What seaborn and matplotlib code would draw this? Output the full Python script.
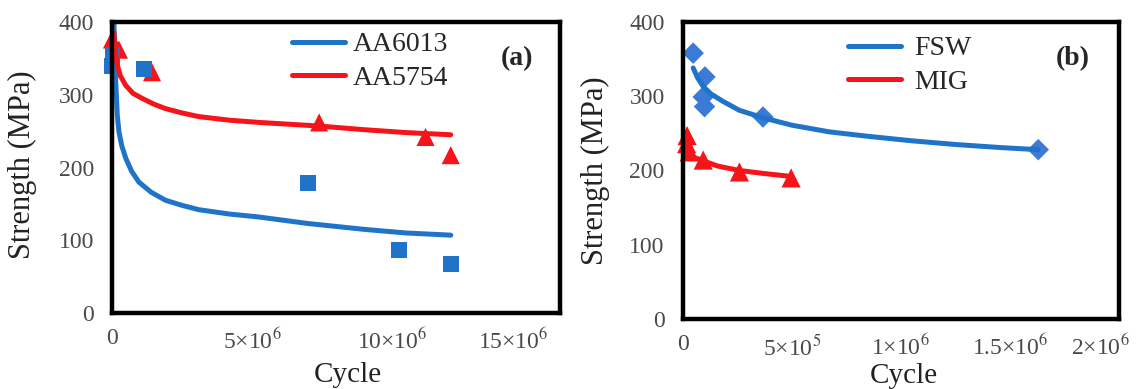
import numpy as np
import pandas as pd
import seaborn as sns
import matplotlib.pyplot as plt
from matplotlib.transforms import ScaledTranslation

# ---- data ----
# panel (a): measured points
aa6013_cycles = [0.0, 0.02e6, 1.14e6, 7.0e6, 10.25e6, 12.1e6]
aa6013_strength = [340, 355, 335, 179, 87, 67]
aa5754_cycles = [0.0, 0.25e6, 1.43e6, 7.4e6, 11.2e6, 12.1e6]
aa5754_strength = [376, 362, 331, 262, 242, 217]

# panel (a): trend curves
aa6013_fit_x = [0.07e6, 0.12e6, 0.19e6, 0.25e6, 0.35e6, 0.49e6, 0.7e6, 0.96e6, 1.4e6, 1.91e6,
                2.5e6, 3.1e6, 4.2e6, 5.24e6, 7e6, 9e6, 10.5e6, 12.1e6]
aa6013_fit_y = [398, 330, 272, 249, 230, 213, 195, 180, 166, 155,
                148, 142, 136, 132, 123, 115, 110, 107]
aa5754_fit_x = [0.07e6, 0.12e6, 0.19e6, 0.3e6, 0.49e6, 0.75e6, 1.08e6, 1.5e6, 1.91e6, 2.5e6,
                3.1e6, 4.2e6, 5.24e6, 7.4e6, 9e6, 10.5e6, 12.1e6]
aa5754_fit_y = [385, 360, 341, 326, 313, 302, 295, 287, 281, 275,
                270, 265, 262, 257, 252, 248, 245]

# panel (b): measured points
fsw_cycles = [0.048e6, 0.102e6, 0.094e6, 0.10e6, 0.368e6, 1.63e6]
fsw_strength = [358, 326, 299, 286, 272, 228]
mig_cycles = [0.02e6, 0.018e6, 0.03e6, 0.094e6, 0.26e6, 0.497e6]
mig_strength = [247, 236, 225, 214, 198, 190]

# panel (b): trend curves
fsw_fit_x = [0.048e6, 0.07e6, 0.094e6, 0.13e6, 0.185e6, 0.26e6, 0.368e6, 0.5e6, 0.672e6,
             0.85e6, 1.05e6, 1.25e6, 1.45e6, 1.63e6]
fsw_fit_y = [338, 324, 313, 303, 293, 281, 271, 261, 252, 246, 240, 235, 231, 228]
mig_fit_x = [0.005e6, 0.02e6, 0.05e6, 0.094e6, 0.16e6, 0.26e6, 0.37e6, 0.497e6]
mig_fit_y = [231, 224, 218, 213, 206, 200, 196, 192]

yticks = [0, 100, 200, 300, 400]
xticks_a = [0, 5e6, 10e6, 15e6]
xtick_labels_a = ["0", "5×10$^6$", "10×10$^6$", "15×10$^6$"]
xticks_b = [0, 5e5, 1e6, 1.5e6, 2e6]
xtick_labels_b = ["0", "5×10$^5$", "1×10$^6$", "1.5×10$^6$", "2×10$^6$"]

BLUE = "#1f74c9"
BLUE_D = "#3b7bd6"
RED = "#f5141a"

sns.set_style("white")
plt.rcParams["font.family"] = ["Liberation Serif", "DejaVu Serif"]
plt.rcParams["mathtext.fontset"] = "stix"

fig = plt.figure(figsize=(11.39, 3.89), dpi=100)
ax1 = fig.add_axes([0.0983, 0.1954, 0.3933, 0.748])
ax2 = fig.add_axes([0.5994, 0.18, 0.3830, 0.7635])


def style_axes(ax, xticks, xlabels, xmax):
    ax.set_xlim(0, xmax)
    ax.set_ylim(0, 400)
    ax.set_yticks(yticks)
    ax.set_xticks(xticks)
    ax.set_xticklabels(xlabels)
    ax.tick_params(axis="both", length=0, labelsize=17, colors="#4a4a4a")
    ax.tick_params(axis="y", pad=13)
    ax.tick_params(axis="x", pad=11)
    for sp in ax.spines.values():
        sp.set_visible(True)
        sp.set_color("black")
        sp.set_linewidth(3.2)
    ax.set_xlabel("Cycle", fontsize=21, color="#222222")
    ax.set_ylabel("Strength (MPa)", fontsize=22, color="#222222")
    # last tick label sits a little left of its tick in the reference
    last = ax.get_xticklabels()[-1]
    last.set_transform(last.get_transform() + ScaledTranslation(-0.19, 0, fig.dpi_scale_trans))


# --- panel (a) ---
sns.lineplot(x=aa6013_fit_x, y=aa6013_fit_y, ax=ax1, color=BLUE, lw=3.6, label="AA6013")
sns.lineplot(x=aa5754_fit_x, y=aa5754_fit_y, ax=ax1, color=RED, lw=3.6, label="AA5754")
sns.scatterplot(x=aa5754_cycles, y=aa5754_strength, ax=ax1, color=RED, marker="^", s=170,
                edgecolor="none", clip_on=False)
sns.scatterplot(x=aa6013_cycles, y=aa6013_strength, ax=ax1, color=BLUE, marker="s", s=130,
                edgecolor="none", clip_on=False)
style_axes(ax1, xticks_a, xtick_labels_a, 16e6)
ax1.xaxis.set_label_coords(0.526, -0.168)
ax1.yaxis.set_label_coords(-0.167, 0.51)
ax1.legend(loc="upper left", bbox_to_anchor=(0.402, 0.966), frameon=False, fontsize=20,
           handlelength=1.9, handletextpad=0.3, labelspacing=0.3, borderpad=0, borderaxespad=0)
ax1.text(0.905, 0.875, "(a)", transform=ax1.transAxes, fontsize=20, fontweight="bold",
         ha="center", va="center")

# --- panel (b) ---
sns.lineplot(x=fsw_fit_x, y=fsw_fit_y, ax=ax2, color=BLUE, lw=3.6, label="FSW")
sns.lineplot(x=mig_fit_x, y=mig_fit_y, ax=ax2, color=RED, lw=3.6, label="MIG")
sns.scatterplot(x=fsw_cycles, y=fsw_strength, ax=ax2, color=BLUE_D, marker="D", s=120,
                edgecolor="none")
sns.scatterplot(x=mig_cycles, y=mig_strength, ax=ax2, color=RED, marker="^", s=190,
                edgecolor="none", clip_on=False)
style_axes(ax2, xticks_b, xtick_labels_b, 2e6)
ax2.xaxis.set_label_coords(0.507, -0.148)
ax2.yaxis.set_label_coords(-0.167, 0.5)
ax2.legend(loc="upper left", bbox_to_anchor=(0.38, 0.953), frameon=False, fontsize=20,
           handlelength=1.9, handletextpad=0.45, labelspacing=0.3, borderpad=0, borderaxespad=0)
ax2.text(0.895, 0.878, "(b)", transform=ax2.transAxes, fontsize=20, fontweight="bold",
         ha="center", va="center")

fig.savefig("out.png", dpi=100)
